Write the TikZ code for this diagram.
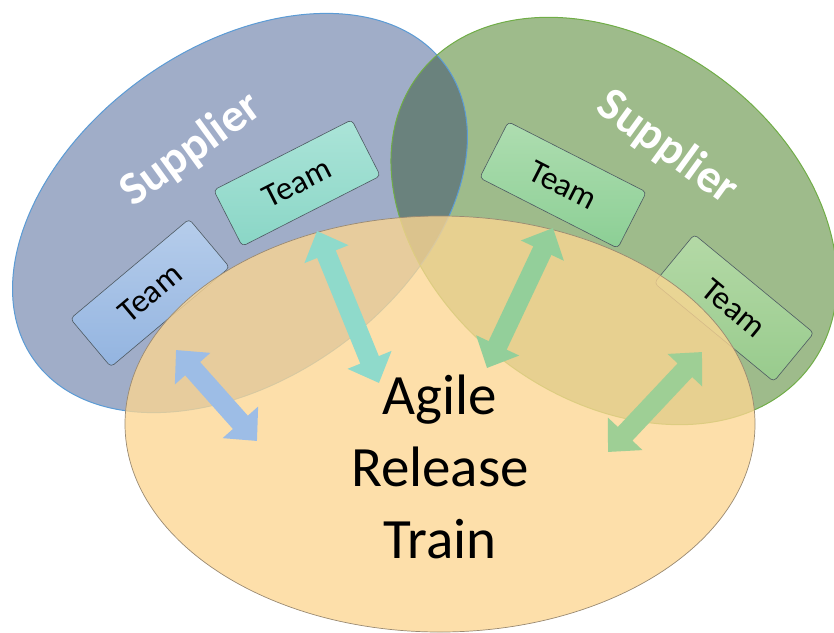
\documentclass[tikz,border=0pt]{standalone}
\usepackage{fontspec}
\setmainfont{Carlito}
\usetikzlibrary{arrows.meta}

% fills and lines
\definecolor{supAfill}{HTML}{A0ADC8}
\definecolor{supAline}{HTML}{5B9BD5}
\definecolor{supBfill}{HTML}{9EBB8B}
\definecolor{supBline}{HTML}{70AD47}
\definecolor{supAB}{HTML}{6A827D}
\definecolor{artfill}{HTML}{FCD692}
\definecolor{artline}{HTML}{9A8A72}
\definecolor{boxline}{HTML}{4E5A62}
% team boxes (top / bottom of the gradient)
\definecolor{tAtop}{HTML}{B6CDEB}
\definecolor{tAbot}{HTML}{93B4E0}
\definecolor{tBtop}{HTML}{ABE4D8}
\definecolor{tBbot}{HTML}{8AD6C6}
\definecolor{tCtop}{HTML}{AEDDB0}
\definecolor{tCbot}{HTML}{8CCF95}
\definecolor{tDtop}{HTML}{B4D9A6}
\definecolor{tDbot}{HTML}{98CB8D}
% double arrows
\definecolor{arA}{HTML}{9DBDE6}
\definecolor{arB}{HTML}{8FDACB}
\definecolor{arC}{HTML}{93CF9A}
\definecolor{arD}{HTML}{9ECF95}

\tikzset{
  teambox/.style={draw=boxline, line width=0.6pt, rounded corners=4pt,
    minimum width=155pt, minimum height=63pt, inner sep=0pt,
    font=\fontsize{33}{33}\selectfont, text=black},
  suplabel/.style={text=white, font=\fontsize{47}{47}\selectfont\bfseries, inner sep=0pt},
  linkarrow/.style={line width=20pt,
    {Triangle[width=46pt,length=25pt]}-{Triangle[width=46pt,length=25pt]}},
}

\begin{document}
\begin{tikzpicture}[x=1pt,y=-1pt]
\useasboundingbox (0,0) rectangle (834,632);

\coordinate (ca) at (240,213);
\coordinate (cb) at (614,221);
\coordinate (cc) at (440,424);

% the two supplier ellipses
\fill[supAfill, rotate around={35.5:(ca)}] (ca) ellipse [x radius=253pt, y radius=166pt];
\fill[supBfill, rotate around={-36.4:(cb)}] (cb) ellipse [x radius=244pt, y radius=178pt];
\begin{scope}
  \clip[rotate around={35.5:(ca)}] (ca) ellipse [x radius=253pt, y radius=166pt];
  \fill[supAB, rotate around={-36.4:(cb)}] (cb) ellipse [x radius=244pt, y radius=178pt];
\end{scope}
\draw[supAline, line width=1pt, rotate around={35.5:(ca)}] (ca) ellipse [x radius=253pt, y radius=166pt];
\draw[supBline, line width=1pt, rotate around={-36.4:(cb)}] (cb) ellipse [x radius=244pt, y radius=178pt];

% supplier labels
\node[suplabel, rotate=36] (supA) at (191,150) {Supplier};
\node[suplabel, rotate=-36] (supB) at (667,148) {Supplier};

% teams
\node[teambox, top color=tAtop, bottom color=tAbot, rotate=40] (teamA) at (150,293) {Team};
\node[teambox, top color=tBtop, bottom color=tBbot, rotate=27] (teamB) at (297,183) {Team};
\node[teambox, top color=tCtop, bottom color=tCbot, rotate=-27] (teamC) at (563,185) {Team};
\node[teambox, top color=tDtop, bottom color=tDbot, rotate=-39.5] (teamD) at (734,308) {Team};

% the release train
\fill[artfill, fill opacity=0.78] (cc) ellipse [x radius=315pt, y radius=208pt];
\draw[artline, line width=0.7pt] (cc) ellipse [x radius=315pt, y radius=208pt];

% arrow ends
\coordinate (aA1) at (176,350);  \coordinate (aA2) at (257,441);
\coordinate (aB1) at (317,231);  \coordinate (aB2) at (379,383);
\coordinate (aC1) at (553,228);  \coordinate (aC2) at (487,368);
\coordinate (aD1) at (702,352);  \coordinate (aD2) at (608,452);

\draw[linkarrow, arA] (aA1) -- (aA2);
\draw[linkarrow, arB] (aB1) -- (aB2);
\draw[linkarrow, arC] (aC1) -- (aC2);
\draw[linkarrow, arD] (aD1) -- (aD2);

\node[align=center, font=\fontsize{57}{72}\selectfont, inner sep=0pt] (art) at (440,467)
  {Agile\\Release\\Train};
\end{tikzpicture}
\end{document}
